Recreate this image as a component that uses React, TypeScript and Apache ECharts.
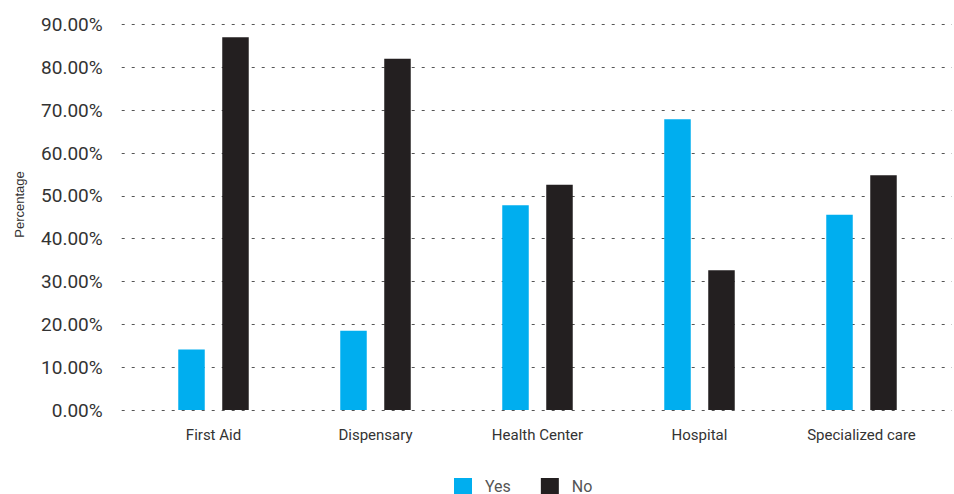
import React, { useEffect, useRef } from "react";
import * as echarts from "echarts";

// Share of respondents by type of facility
const categories = ["First Aid", "Dispensary", "Health Center", "Hospital", "Specialized care"];
const yesValues = [14.1, 18.5, 47.8, 67.9, 45.6];
const noValues = [87.0, 82.0, 52.6, 32.6, 54.8];
const seriesNames = ["Yes", "No"];

const BLUE = "#00AEEF";
const BLACK = "#231F20";

export default function App() {
  const ref = useRef<HTMLDivElement>(null);

  useEffect(() => {
    if (!ref.current) return;
    const chart = echarts.init(ref.current, undefined, { renderer: "svg" });
    const top = 24.5;
    const bottom = 84;

    chart.setOption({
      animation: false,
      backgroundColor: "#ffffff",
      grid: [
        // value scale + dashed gridlines, full width
        { left: 121.7, right: 2, top, bottom },
        // bars
        { left: 132.5, right: 11.5, top, bottom },
      ],
      xAxis: [
        { type: "category", gridIndex: 0, data: categories, show: false },
        {
          type: "category",
          gridIndex: 1,
          data: categories,
          axisLine: { show: false },
          axisTick: { show: false },
          axisLabel: {
            margin: 17,
            color: "#333333",
            fontFamily: "Roboto",
            fontSize: 15,
          },
        },
      ],
      yAxis: [
        {
          type: "value",
          gridIndex: 0,
          min: 0,
          max: 90,
          interval: 10,
          axisLine: { show: false },
          axisTick: { show: false },
          axisLabel: {
            margin: 19,
            color: "#333333",
            fontFamily: "Roboto",
            fontSize: 19,
            formatter: (v: number) => v.toFixed(2) + "%",
          },
          splitLine: {
            show: true,
            lineStyle: { color: "#555555", width: 1, type: [3, 7] },
          },
        },
        {
          type: "value",
          gridIndex: 1,
          min: 0,
          max: 90,
          interval: 10,
          show: false,
          splitLine: { show: false },
        },
      ],
      legend: {
        data: seriesNames,
        left: 449,
        top: 473,
        itemWidth: 18,
        itemHeight: 16,
        itemGap: 30,
        icon: "rect",
        textStyle: {
          color: "#555555",
          fontFamily: "Roboto",
          fontSize: 16,
          padding: [0, 0, 0, 8],
        },
      },
      graphic: [
        {
          type: "text",
          x: 19,
          y: 204.5,
          rotation: Math.PI / 2,
          style: {
            text: "Percentage",
            fill: "#333333",
            fontFamily: "Liberation Sans",
            fontSize: 13,
            align: "center",
            verticalAlign: "middle",
          },
        },
      ],
      series: [
        {
          name: seriesNames[0],
          type: "bar",
          xAxisIndex: 1,
          yAxisIndex: 1,
          data: yesValues,
          barWidth: 26.5,
          barGap: "66%",
          itemStyle: { color: BLUE },
        },
        {
          name: seriesNames[1],
          type: "bar",
          xAxisIndex: 1,
          yAxisIndex: 1,
          data: noValues,
          barWidth: 26.5,
          barGap: "66%",
          itemStyle: { color: BLACK },
        },
      ],
    });

    return () => chart.dispose();
  }, []);

  return <div ref={ref} style={{ width: 954, height: 494, position: "absolute", left: 0, top: 0 }} />;
}
